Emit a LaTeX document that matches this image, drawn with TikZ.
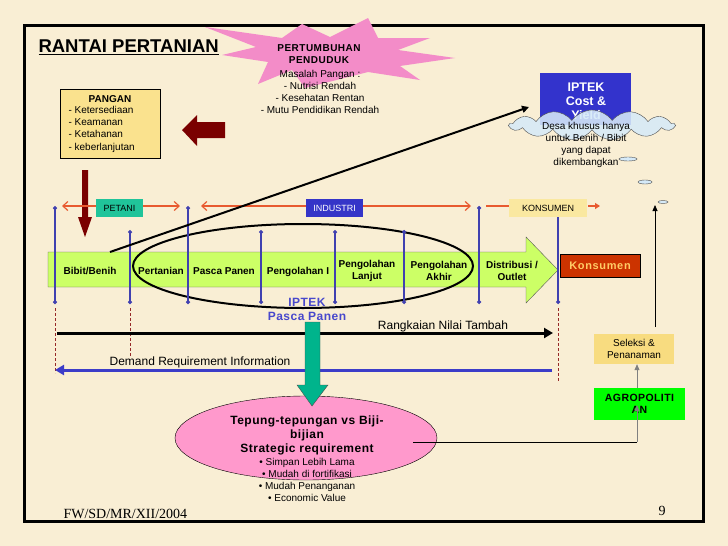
\documentclass[tikz,border=0pt]{standalone}
\usepackage{fontspec}
\setmainfont{Liberation Sans}
\newfontfamily\timesfont{Liberation Serif}
\usepackage{tikz}
\usetikzlibrary{shapes.symbols, arrows.meta}
\definecolor{paper}{RGB}{249,238,212}
\definecolor{panganyellow}{RGB}{250,226,142}
\definecolor{darkred}{RGB}{122,0,0}
\definecolor{petanigreen}{RGB}{32,196,154}
\definecolor{industriblue}{RGB}{53,53,200}
\definecolor{konsumentag}{RGB}{250,232,160}
\definecolor{spanorange}{RGB}{232,90,48}
\definecolor{divblue}{RGB}{64,64,176}
\definecolor{dotred}{RGB}{150,40,40}
\definecolor{chaingreen}{RGB}{204,255,102}
\definecolor{konsumenred}{RGB}{204,51,0}
\definecolor{konsumentext}{RGB}{255,204,102}
\definecolor{iptekblue}{RGB}{51,51,204}
\definecolor{cloudblue}{RGB}{214,234,248}
\definecolor{starpink}{RGB}{243,140,200}
\definecolor{ellipsepink}{RGB}{255,153,204}
\definecolor{tealarrow}{RGB}{0,180,140}
\definecolor{agrogreen}{RGB}{0,255,0}
\definecolor{seleksiyellow}{RGB}{248,220,128}
\definecolor{demandblue}{RGB}{60,60,200}
\definecolor{pascablue}{RGB}{72,72,204}
\tikzstyle{arrow} = [line width=3pt, -{Triangle[length=9pt,width=10pt]}]
\tikzstyle{stage} = [font=\fontsize{10}{12}\selectfont\bfseries, align=center]
\tikzstyle{note} = [font=\fontsize{10}{12}\selectfont, align=center]
\tikzstyle{tag} = [minimum height=18pt, inner sep=0pt, font=\fontsize{9}{11}\selectfont]
\tikzstyle{divider} = [draw=divblue, line width=1.2pt, {Circle[length=4pt]}-{Circle[length=4pt]}]
\tikzstyle{reddots} = [draw=dotred, densely dashed, line width=0.8pt]
\tikzstyle{span} = [draw=spanorange, line width=1.2pt]
\tikzset{barbs/.style={{Straight Barb[length=5pt,width=9pt]}-{Straight Barb[length=5pt,width=9pt]}}}

\begin{document}
\begin{tikzpicture}[x=1pt, y=-1pt]
        % Paper and frame
        \fill[paper] (0,0) rectangle (728,546);
        \useasboundingbox (0,0) rectangle (728,546);
        \draw[line width=3pt] (24,25) rectangle (703,521);
        \node[font=\fontsize{18.5}{21}\selectfont\bfseries, anchor=west] (title) at (35,47) {\underline{RANTAI PERTANIAN}};

        % Population burst
        \fill[starpink] (205,27) -- (282,38) -- (302,24) -- (330,37) -- (368,18) -- (378,38)
            -- (430,38) -- (398,50) -- (455,58) -- (400,66) -- (420,80) -- (368,72)
            -- (305,88) -- (292,70) -- (258,84) -- (268,62) -- (222,55) -- (256,47) -- cycle;
        \node[font=\fontsize{10}{12}\selectfont\bfseries\addfontfeature{LetterSpace=5}, align=center] (growth) at (319,54) {PERTUMBUHAN\\PENDUDUK};
        \node[note] (masalah) at (320,92) {Masalah Pangan :\\- Nutrisi Rendah\\- Kesehatan Rentan\\- Mutu Pendidikan Rendah};

        % Pangan box and red arrows
        \node[draw, thick, fill=panganyellow, minimum width=100pt, minimum height=69pt] (pangan) at (110,123.5) {};
        \node[font=\fontsize{10}{12}\selectfont\bfseries] (pangantitle) at (110,99) {PANGAN};
        \node[font=\fontsize{10}{12.3}\selectfont, align=left, anchor=west] (panganlist) at (65,129) {- Ketersediaan\\- Keamanan\\- Ketahanan\\- keberlanjutan};
        \fill[darkred] (225,122) -- (197,122) -- (197,115) -- (182,130) -- (197,146) -- (197,138) -- (225,138) -- cycle;
        \fill[darkred] (82,170) -- (88,170) -- (88,217) -- (92,217) -- (85,237) -- (78,217) -- (82,217) -- cycle;

        % Actor spans
        \draw[span, barbs] (62,206) -- (180,206);
        \draw[span, barbs] (201,206) -- (471,206);
        \draw[span] (486,206) -- (509,206);
        \draw[span, -{Triangle[length=5pt,width=6pt]}] (588,206) -- (600,206);
        \node[tag, fill=petanigreen, minimum width=47pt] (petani) at (119.5,208) {PETANI};
        \node[tag, fill=industriblue, text=white, minimum width=57pt] (industri) at (334.5,208) {INDUSTRI};
        \node[tag, fill=konsumentag, minimum width=78pt] (konsumentag) at (548,208) {KONSUMEN};

        % Value chain arrow
        \draw[gray!70!black, fill=chaingreen] (48,252) -- (526,252) -- (526,237) -- (558,270)
            -- (526,303) -- (526,287) -- (48,287) -- cycle;
        \node[stage] (bibit) at (90,271) {Bibit/Benih};
        \node[stage] (pertanian) at (161,271) {Pertanian};
        \node[stage] (pascapanen) at (224,271) {Pasca Panen};
        \node[stage] (olah1) at (298,272) {Pengolahan I};
        \node[stage] (olahlanjut) at (367,271) {Pengolahan\\Lanjut};
        \node[stage] (olahakhir) at (439,271) {Pengolahan\\Akhir};
        \node[stage] (distribusi) at (512,271) {Distribusi /\\Outlet};
        \node[draw, fill=konsumenred, text=konsumentext, minimum width=80pt, minimum height=23pt,
            font=\fontsize{11}{13}\selectfont\bfseries\addfontfeature{LetterSpace=6}] (konsumen) at (600,265.5) {Konsumen};
        \draw[line width=2pt] (303,266) ellipse [x radius=170pt, y radius=42pt];

        % Dividers
        \foreach \x in {55,188,479} \draw[divider] (\x,206) -- (\x,304);
        \foreach \x in {130,261,335,404} \draw[divider] (\x,230) -- (\x,304);
        \draw[divider, -{Circle[length=4pt]}] (558,217) -- (558,304);
        \draw[reddots] (55,308) -- (55,373);
        \draw[reddots] (130,308) -- (130,357);
        \draw[reddots] (558,308) -- (558,381);

        % IPTEK cost & yield with cloud
        \node[fill=iptekblue, minimum width=91pt, minimum height=52pt] (iptek) at (585.5,99) {};
        \node[text=white, font=\fontsize{12.5}{14}\selectfont\bfseries, align=center] (iptektext) at (586,101) {IPTEK\\Cost \&\\Yield};
        \node[cloud, cloud puffs=13, cloud puff arc=110, aspect=5.5, draw=black!70, fill=cloudblue,
            fill opacity=0.88, minimum width=165pt, minimum height=30pt] (desa) at (592,125) {};
        \node[note] (desatext) at (586,145) {Desa khusus hanya\\untuk Benih / Bibit\\yang dapat\\dikembangkan};
        \draw[black!70, fill=cloudblue] (628,159) ellipse [x radius=9pt, y radius=2pt];
        \draw[black!70, fill=cloudblue] (645,182) ellipse [x radius=7pt, y radius=2pt];
        \draw[black!70, fill=cloudblue] (663,202) ellipse [x radius=5pt, y radius=1.5pt];
        \coordinate (bibittop) at (110,252);
        \coordinate (iptekin) at (529,107);
        \draw[line width=2pt, -{Triangle[length=7pt,width=7pt]}] (bibittop) -- (iptekin);
        \coordinate (upstart) at (655,327);
        \coordinate (upend) at (655,205);
        \draw[thick, -{Triangle[length=6pt,width=5pt]}] (upstart) -- (upend);

        % Flows
        \node[text=pascablue, font=\fontsize{12}{14}\selectfont\bfseries\addfontfeature{LetterSpace=4}, align=center] (pasca) at (307,309.5) {IPTEK\\Pasca Panen};
        \coordinate (nilaistart) at (57,333);
        \coordinate (nilaiend) at (553,333);
        \draw[arrow] (nilaistart) -- (nilaiend);
        \node[font=\fontsize{12}{14}\selectfont] (nilai) at (443,326) {Rangkaian Nilai Tambah};
        \coordinate (demandstart) at (552,370);
        \coordinate (demandend) at (55,370);
        \draw[arrow, demandblue] (demandstart) -- (demandend);
        \node[font=\fontsize{12}{14}\selectfont] (demand) at (200,362) {Demand Requirement Information};

        % Strategic requirement
        \draw[fill=ellipsepink] (306,438) ellipse [x radius=131pt, y radius=42pt];
        \fill[tealarrow, draw=black!70] (305,322) -- (320,322) -- (320,385) -- (328,385) -- (312,406)
            -- (297,385) -- (305,385) -- cycle;
        \node[font=\fontsize{12}{14}\selectfont\bfseries\addfontfeature{LetterSpace=4}, align=center] (tepung) at (307,435) {Tepung-tepungan vs Biji-\\bijian\\Strategic requirement};
        \node[note] (bullets) at (307,480) {\textbullet{} Simpan Lebih Lama\\\textbullet{} Mudah di fortifikasi\\\textbullet{} Mudah Penanganan\\\textbullet{} Economic Value};

        % Agropolitan
        \node[fill=seleksiyellow, minimum width=80pt, minimum height=30pt, note] (seleksi) at (634,349) {Seleksi \&\\Penanaman};
        \node[fill=agrogreen, minimum width=91pt, minimum height=32pt, align=center,
            font=\fontsize{10.5}{11.5}\selectfont\bfseries\addfontfeature{LetterSpace=4}] (agro) at (639.5,404) {AGROPOLITI\\AN};
        \coordinate (tepungout) at (413,442);
        \coordinate (agrocorner) at (637,442);
        \draw (tepungout) -- (agrocorner);
        \draw[gray, thick, -{Triangle[length=6pt,width=5pt]}] (agrocorner) -- (637,405);
        \draw[gray, thick, -{Triangle[length=6pt,width=5pt]}] (agro.north -| agrocorner) -- (seleksi.south -| agrocorner);

        % Footer
        \node[font=\timesfont\fontsize{14}{16}\selectfont, anchor=west] (footer) at (60,514) {FW/SD/MR/XII/2004};
        \node[font=\timesfont\fontsize{14}{16}\selectfont] (page) at (662,511) {9};
\end{tikzpicture}
\end{document}
